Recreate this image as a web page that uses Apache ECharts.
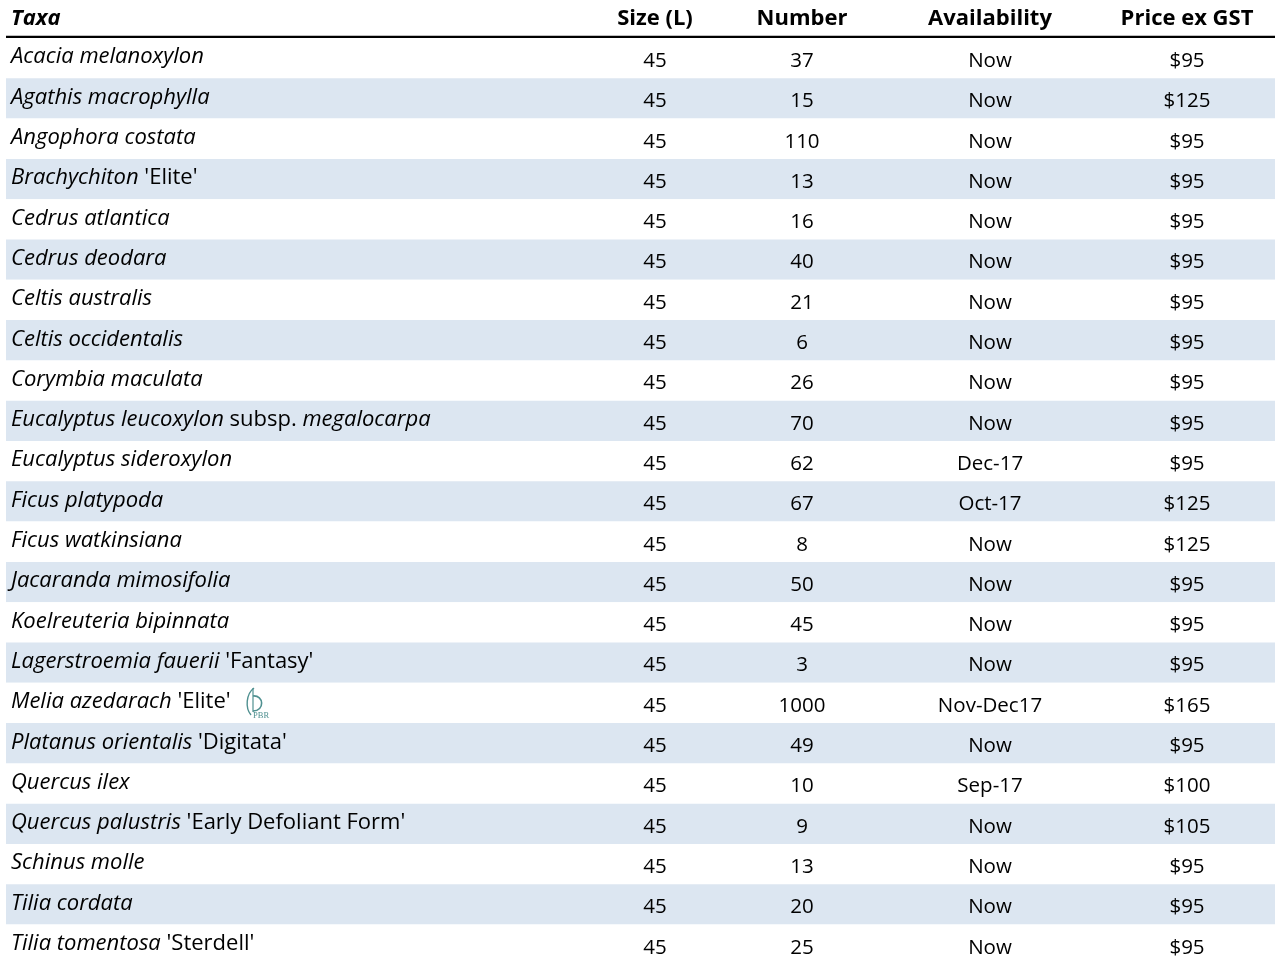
<!DOCTYPE html>
<html>
<head>
<meta charset="utf-8">
<script src="https://cdn.jsdelivr.net/npm/echarts@6/dist/echarts.min.js"></script>
<style>
html,body{margin:0;padding:0;background:#fff;overflow:hidden;}
#chart{width:1275px;height:970px;}
</style>
</head>
<body>
<div id="chart"></div>
<script>
// ---- data ----
const headers = ["Taxa", "Size (L)", "Number", "Availability", "Price ex GST"];
const taxa = [
  "{i|Acacia melanoxylon}",
  "{i|Agathis macrophylla}",
  "{i|Angophora costata}",
  "{i|Brachychiton} {n|'Elite'}",
  "{i|Cedrus atlantica}",
  "{i|Cedrus deodara}",
  "{i|Celtis australis}",
  "{i|Celtis occidentalis}",
  "{i|Corymbia maculata}",
  "{i|Eucalyptus leucoxylon} {n|subsp.} {i|megalocarpa}",
  "{i|Eucalyptus sideroxylon}",
  "{i|Ficus platypoda}",
  "{i|Ficus watkinsiana}",
  "{i|Jacaranda mimosifolia}",
  "{i|Koelreuteria bipinnata}",
  "{i|Lagerstroemia fauerii} {n|'Fantasy'}",
  "{i|Melia azedarach} {n|'Elite'}",
  "{i|Platanus orientalis} {n|'Digitata'}",
  "{i|Quercus ilex}",
  "{i|Quercus palustris} {n|'Early Defoliant Form'}",
  "{i|Schinus molle}",
  "{i|Tilia cordata}",
  "{i|Tilia tomentosa} {n|'Sterdell'}"
];
const sizes = [45,45,45,45,45,45,45,45,45,45,45,45,45,45,45,45,45,45,45,45,45,45,45];
const numbers = [37,15,110,13,16,40,21,6,26,70,62,67,8,50,45,3,1000,49,10,9,13,20,25];
const availability = ["Now","Now","Now","Now","Now","Now","Now","Now","Now","Now","Dec-17","Oct-17","Now","Now","Now","Now","Nov-Dec17","Now","Sep-17","Now","Now","Now","Now"];
const prices = ["$95","$125","$95","$95","$95","$95","$95","$95","$95","$95","$95","$125","$125","$95","$95","$95","$165","$95","$100","$105","$95","$95","$95"];
const pbrRows = [16]; // rows carrying the PBR mark

// ---- layout ----
const FONT = "'Open Sans', 'Noto Sans', sans-serif";
const BODY_SIZE = 20.5;
const TAXA_SIZE = 22;
const HEAD_SIZE = 22;
const COL_TAXA = 11, COL_SIZE = 655, COL_NUM = 802, COL_AVAIL = 990, COL_PRICE = 1187;
const TOP = 38, ROW_H = 40.3;

const chart = echarts.init(document.getElementById('chart'), null, {renderer: 'canvas'});

const rowIdx = taxa.map((_, i) => String(i));

function renderRow(params, api) {
  const i = api.value(1);
  const y = api.coord([0, i])[1];
  const children = [];
  children.push({
    type: 'text',
    style: {
      x: COL_TAXA, y: y - 1, text: taxa[i],
      align: 'left', verticalAlign: 'middle',
      fontFamily: FONT, fontSize: TAXA_SIZE, fill: '#000',
      rich: {
        i: {fontStyle: 'italic', fontFamily: FONT, fontSize: TAXA_SIZE, fill: '#000'},
        n: {fontStyle: 'normal', fontFamily: FONT, fontSize: TAXA_SIZE, fill: '#000'}
      }
    }
  });
  const cells = [[COL_SIZE, String(sizes[i])], [COL_NUM, String(numbers[i])], [COL_AVAIL, availability[i]], [COL_PRICE, prices[i]]];
  cells.forEach(c => {
    children.push({
      type: 'text',
      style: {x: c[0], y: y + 3, text: c[1], align: 'center', verticalAlign: 'middle',
              fontFamily: FONT, fontSize: BODY_SIZE, fill: '#000'}
    });
  });
  if (pbrRows.indexOf(i) >= 0) {
    const bx = 253, by = y - 15;
    const col = '#4f9090';
    children.push({type: 'path', shape: {pathData: 'M 1 0 C -7 6 -8 20 -2 27'}, x: bx, y: by,
      style: {stroke: col, fill: null, lineWidth: 1.4}});
    children.push({type: 'line', shape: {x1: bx, y1: by, x2: bx, y2: by + 24},
      style: {stroke: col, lineWidth: 1.2}});
    children.push({type: 'path', shape: {pathData: 'M 0 8 C 11 7 12 23 0 23'}, x: bx, y: by,
      style: {stroke: col, fill: null, lineWidth: 1.6}});
    children.push({type: 'text', style: {x: bx, y: by + 28, text: 'PBR', align: 'left', verticalAlign: 'middle',
      fontFamily: "'Liberation Serif', serif", fontSize: 8.5, fill: col}});
  }
  return {type: 'group', children};
}

const headerX = [COL_TAXA, COL_SIZE, COL_NUM, COL_AVAIL, COL_PRICE];
const headerGraphics = headers.map((h, j) => ({
  type: 'text',
  x: headerX[j], y: 19,
  style: {
    text: h, x: 0, y: 0,
    align: j === 0 ? 'left' : 'center', verticalAlign: 'middle',
    fontFamily: FONT, fontSize: HEAD_SIZE, fontWeight: 'bold',
    fontStyle: j === 0 ? 'italic' : 'normal', fill: '#000'
  }
}));

chart.setOption({
  animation: false,
  backgroundColor: '#fff',
  grid: {left: 6, right: 0, top: TOP, height: ROW_H * taxa.length},
  xAxis: {type: 'value', min: 0, max: 1269, show: false},
  yAxis: {
    type: 'category', data: rowIdx, inverse: true,
    axisLine: {show: false}, axisTick: {show: false}, axisLabel: {show: false},
    splitLine: {show: false},
    splitArea: {show: true, areaStyle: {color: ['#ffffff', '#dce6f1']}}
  },
  series: [{
    type: 'custom',
    renderItem: renderRow,
    encode: {x: 0, y: 1},
    data: taxa.map((_, i) => [0, i]),
    clip: false
  }],
  graphic: headerGraphics.concat([{
    type: 'line', shape: {x1: 6, y1: 37, x2: 1275, y2: 37},
    style: {stroke: '#000', lineWidth: 2.5}
  }])
});
</script>
</body>
</html>
